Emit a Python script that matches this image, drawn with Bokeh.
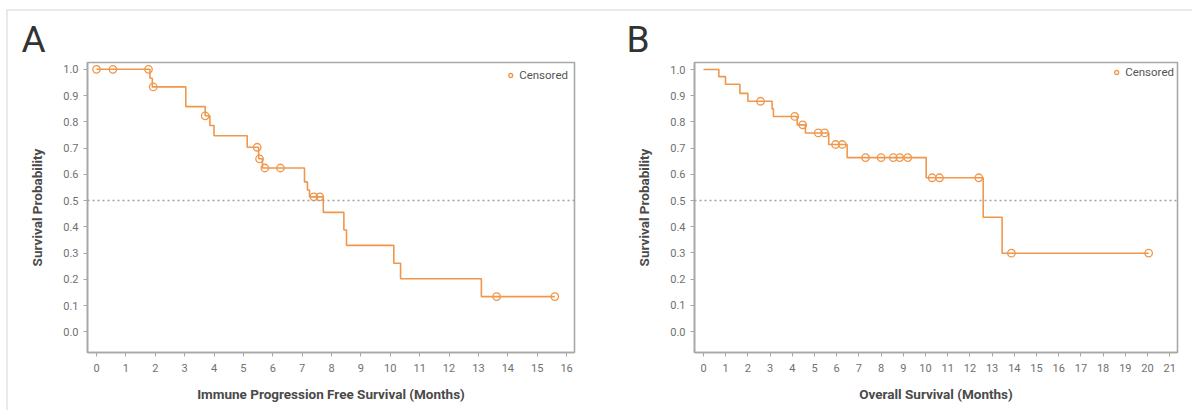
from bokeh.plotting import figure
from bokeh.layouts import row
from bokeh.models import Range1d, FixedTicker, PrintfTickFormatter, Span, Legend, LegendItem
from bokeh.embed import file_html
from bokeh.resources import INLINE

# ---------------- data ----------------
# Panel A: Immune progression free survival (KM step points: time, survival after)
a_times = [0, 1.82, 1.90, 3.04, 3.70, 3.86, 4.00, 5.13, 5.52, 5.65, 7.08, 7.18, 7.25,
           7.72, 8.42, 8.51, 10.12, 10.35, 13.10, 15.60]
a_surv = [1.0, 0.966, 0.933, 0.858, 0.823, 0.786, 0.747, 0.703, 0.659, 0.624, 0.571, 0.540,
          0.514, 0.455, 0.388, 0.329, 0.261, 0.202, 0.134, 0.134]
a_cens_t = [0, 0.56, 1.77, 1.93, 3.70, 5.47, 5.55, 5.73, 6.26, 7.40, 7.60, 13.62, 15.60]
a_cens_s = [1.0, 1.0, 1.0, 0.933, 0.823, 0.703, 0.659, 0.624, 0.624, 0.514, 0.514, 0.134, 0.134]

# Panel B: Overall survival
b_times = [0, 0.69, 0.99, 1.64, 2.00, 3.09, 3.15, 4.22, 4.59, 5.64, 6.47, 10.03, 12.60,
           13.45, 20.05]
b_surv = [1.0, 0.973, 0.944, 0.909, 0.879, 0.850, 0.821, 0.789, 0.758, 0.714, 0.664, 0.587,
          0.436, 0.299, 0.299]
b_cens_t = [2.57, 4.11, 4.47, 5.17, 5.46, 5.95, 6.25, 7.30, 8.00, 8.55, 8.84, 9.20, 10.30,
            10.63, 12.40, 13.87, 20.05]
b_cens_s = [0.879, 0.821, 0.789, 0.758, 0.758, 0.714, 0.714, 0.664, 0.664, 0.664, 0.664,
            0.664, 0.587, 0.587, 0.587, 0.299, 0.299]

y_ticks = [0.0, 0.1, 0.2, 0.3, 0.4, 0.5, 0.6, 0.7, 0.8, 0.9, 1.0]
a_x_ticks = list(range(0, 17))
b_x_ticks = list(range(0, 22))

ORANGE = "#F0974C"
FONT = "Roboto"


def make_panel(letter, letter_offset, times, surv, ct, cs, xticks, xlabel, xr, yr, width,
               bl, br, bt, bb, leg_margin):
    p = figure(width=width, height=410, x_range=Range1d(*xr), y_range=Range1d(*yr),
               output_backend="svg", toolbar_location=None,
               min_border_left=bl, min_border_right=br, min_border_top=bt, min_border_bottom=bb)
    p.title.text = letter
    p.title.text_font = FONT
    p.title.text_font_size = "37px"
    p.title.text_font_style = "normal"
    p.title.text_color = "#333333"
    p.title.align = "left"
    p.title.offset = letter_offset
    p.title.standoff = 3

    p.xgrid.visible = False
    p.ygrid.visible = False
    p.outline_line_color = "#a8a8a8"
    p.outline_line_width = 1.6
    p.background_fill_color = "white"
    p.border_fill_alpha = 0

    p.xaxis.ticker = FixedTicker(ticks=xticks)
    p.yaxis.ticker = FixedTicker(ticks=y_ticks)
    p.yaxis.formatter = PrintfTickFormatter(format="%.1f")
    for ax in (p.xaxis[0], p.yaxis[0]):
        ax.axis_line_color = "#a8a8a8"
        ax.axis_line_width = 1.6
        ax.major_tick_line_color = "#a8a8a8"
        ax.major_tick_in = 0
        ax.major_tick_out = 4
        ax.minor_tick_line_color = None
        ax.major_label_text_font = FONT
        ax.major_label_text_font_size = "11px"
        ax.major_label_text_color = "#707070"
        ax.axis_label_text_font = FONT
        ax.axis_label_text_font_size = "13.5px"
        ax.axis_label_text_font_style = "bold"
        ax.axis_label_text_color = "#4a4a4a"
    p.xaxis.axis_label = xlabel
    p.yaxis.axis_label = "Survival Probability"
    p.xaxis.major_label_standoff = 7
    p.xaxis.axis_label_standoff = 11
    p.yaxis.major_label_standoff = 5
    p.yaxis.axis_label_standoff = 15

    p.add_layout(Span(location=0.5, dimension="width", line_color="#a0a0a0",
                      line_dash="2 3", line_width=1.4))

    p.step(times, surv, mode="after", line_color=ORANGE, line_width=1.6)
    sc = p.scatter(ct, cs, marker="circle", size=7.5, line_color=ORANGE, line_width=1.3,
                   fill_color=None)

    legend = Legend(items=[LegendItem(label="Censored", renderers=[sc])],
                    location="top_right")
    legend.border_line_color = None
    legend.background_fill_alpha = 0
    legend.label_text_font = FONT
    legend.label_text_font_size = "11.5px"
    legend.label_text_color = "#555555"
    legend.glyph_width = 10
    legend.glyph_height = 12
    legend.label_standoff = 4
    legend.margin = leg_margin
    legend.padding = 6
    p.add_layout(legend)
    return p


pa = make_panel("A", -66, a_times, a_surv, a_cens_t, a_cens_s, a_x_ticks,
                "Immune Progression Free Survival (Months)",
                (-0.306, 16.27), (-0.079, 1.026), 600, 87, 26, 59, 58, 6)
pb = make_panel("B", -68, b_times, b_surv, b_cens_t, b_cens_s, b_x_ticks,
                "Overall Survival (Months)",
                (-0.405, 21.35), (-0.08, 1.027), 592, 94, 15, 62, 57, 3)

frame_bg = ("linear-gradient(#e9e9e9,#e9e9e9) 6px 9px / 1187px 2px no-repeat, "
            "linear-gradient(#e9e9e9,#e9e9e9) 6px 9px / 2px 401px no-repeat, white")
layout = row(pa, pb, styles={"background": frame_bg})

open("out.html", "w").write(file_html(layout, INLINE))
